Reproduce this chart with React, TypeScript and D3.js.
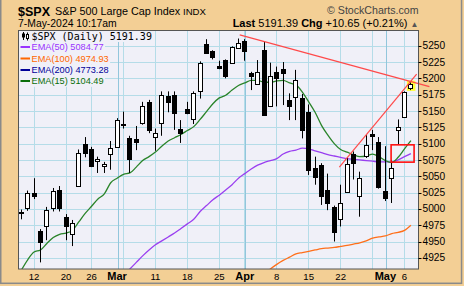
import React, { useLayoutEffect, useRef, useState } from 'react';
import * as d3 from 'd3';

const W = 464;
const H = 286;

// ---- data ----
const dates = [
  '2024-02-08', '2024-02-09', '2024-02-12', '2024-02-13', '2024-02-14', '2024-02-15', '2024-02-16',
  '2024-02-20', '2024-02-21', '2024-02-22', '2024-02-23', '2024-02-26', '2024-02-27', '2024-02-28',
  '2024-02-29', '2024-03-01', '2024-03-04', '2024-03-05', '2024-03-06', '2024-03-07', '2024-03-08',
  '2024-03-11', '2024-03-12', '2024-03-13', '2024-03-14', '2024-03-15', '2024-03-18', '2024-03-19',
  '2024-03-20', '2024-03-21', '2024-03-22', '2024-03-25', '2024-03-26', '2024-03-27', '2024-03-28',
  '2024-04-01', '2024-04-02', '2024-04-03', '2024-04-04', '2024-04-05', '2024-04-08', '2024-04-09',
  '2024-04-10', '2024-04-11', '2024-04-12', '2024-04-15', '2024-04-16', '2024-04-17', '2024-04-18',
  '2024-04-19', '2024-04-22', '2024-04-23', '2024-04-24', '2024-04-25', '2024-04-26', '2024-04-29',
  '2024-04-30', '2024-05-01', '2024-05-02', '2024-05-03', '2024-05-06', '2024-05-07',
];
const opens = [
  4993, 5002, 5024, 4966, 4973, 5001, 5029, 4988, 4962, 5035, 5099, 5091, 5073, 5065, 5084, 5095,
  5130.5, 5108, 5107, 5131, 5164, 5110, 5132, 5173, 5175, 5122, 5153, 5137, 5180, 5252, 5242, 5219,
  5228, 5224, 5246, 5257, 5208, 5192, 5243, 5157, 5210, 5215, 5167, 5171, 5170, 5149, 5062, 5067,
  5029, 5003, 4984, 5026, 5084, 5019, 5081, 5115, 5103, 5028, 5047, 5121, 5140, 5185,
];
const highs = [
  4999, 5028, 5047, 4969, 5003, 5032, 5035, 4992, 4983, 5091, 5110, 5095, 5080, 5072, 5104, 5139,
  5149, 5112, 5127, 5164, 5167, 5123, 5180, 5180, 5180, 5136, 5164, 5180, 5226, 5260, 5243, 5227,
  5229, 5249, 5261, 5260, 5210, 5228, 5256, 5224, 5218, 5225, 5177, 5213, 5176, 5160, 5080, 5070,
  5054, 5005, 5037, 5078, 5088, 5057, 5113, 5121, 5110, 5096, 5075, 5137, 5180, 5194,
];
const lows = [
  4984, 4997, 5015, 4918, 4952, 4996, 4996, 4952, 4943, 5035, 5079, 5064, 5055, 5055, 5060, 5094,
  5123, 5055, 5090, 5129, 5116, 5089, 5112, 5148, 5121, 5101, 5145, 5130, 5169, 5238, 5229, 5214,
  5200, 5223, 5245, 5227, 5182, 5191, 5143, 5156, 5157, 5159, 5136, 5136, 5108, 5052, 5037, 5006,
  4998, 4950, 4973, 5026, 5045, 4988, 5078, 5090, 5031, 5012, 5009, 5098, 5140, 5182,
];
const closes = [
  4995, 5024, 5019, 4950, 4998, 5027, 5002, 4973, 4979, 5085, 5086, 5066, 5076, 5068, 5094, 5136,
  5129.5, 5076, 5102, 5157, 5121, 5116, 5175, 5163, 5147, 5116, 5147, 5177, 5224, 5239, 5232, 5216,
  5203, 5248, 5254, 5242, 5204, 5209, 5144, 5203, 5201, 5208, 5158, 5197, 5121, 5060, 5049, 5019,
  5009, 4964, 5009, 5068, 5070, 5047, 5098, 5112, 5033, 5016, 5062, 5126, 5179, 5191.39,
];

// EMA curves, one value per trading day from their first visible day
const ema15Start = 0;
const ema15 = [
  4906, 4922, 4934, 4937, 4947, 4956, 4961, 4963, 4967, 4980, 4993, 5004, 5015, 5023, 5040, 5047,
  5053, 5055, 5064, 5074, 5080, 5087, 5096, 5104, 5109, 5114, 5120, 5126, 5137, 5149, 5161, 5170,
  5174, 5182, 5189, 5193, 5197, 5197, 5194, 5194, 5196, 5197, 5193, 5190, 5179, 5164, 5148, 5128,
  5113, 5100, 5091, 5087, 5083, 5080, 5081, 5084, 5080, 5074, 5071, 5079, 5092, 5104.49,
];
const ema50Start = 16;
const ema50 = [
  4900, 4908, 4918, 4928, 4937, 4945, 4951, 4957, 4963, 4970, 4977, 4984, 4996, 5005, 5014, 5021,
  5029, 5037, 5047, 5054, 5061, 5067, 5071, 5074, 5077, 5084, 5088, 5090, 5093, 5092, 5089, 5086,
  5083, 5081, 5079, 5077, 5076, 5075, 5074, 5073, 5072, 5072, 5072, 5075, 5080, 5084.77,
];
const ema100Start = 38;
const ema100 = [
  4900, 4908, 4915, 4921, 4926, 4931, 4933, 4935, 4937, 4939, 4940, 4941, 4942.5, 4944, 4946, 4948,
  4951, 4955, 4957, 4958.5, 4962, 4964, 4967, 4974.93,
];

const yTicks = [4925, 4950, 4975, 5000, 5025, 5050, 5075, 5100, 5125, 5150, 5175, 5200, 5225, 5250];
const xLabelDates = [
  '2024-02-12', '2024-02-20', '2024-02-26', '2024-03-01', '2024-03-11', '2024-03-18', '2024-03-25',
  '2024-04-01', '2024-04-08', '2024-04-15', '2024-04-22', '2024-05-01', '2024-05-06',
];
const xLabelTexts = ['12', '20', '26', 'Mar', '11', '18', '25', 'Apr', '8', '15', '22', 'May', '6'];
const weekLineDates = [
  '2024-02-12', '2024-02-20', '2024-02-26', '2024-03-04', '2024-03-11', '2024-03-18', '2024-03-25',
  '2024-04-01', '2024-04-08', '2024-04-15', '2024-04-22', '2024-04-29', '2024-05-06',
];
const monthLineDates = ['2024-03-01', '2024-04-01', '2024-05-01'];

// annotations (day index, value)
const trendDownDays = [34.2, 63.9];
const trendDownVals = [5266.5, 5187.4];
const trendUpDays = [49.8, 61.9];
const trendUpVals = [5064, 5206.5];
const boxDays = [57.9, 61.5];
const boxVals = [5071.6, 5098.1];

const legendLabels = ['$SPX (Daily) 5191.39', 'EMA(50) 5084.77', 'EMA(100) 4974.93', 'EMA(200) 4773.28', 'EMA(15) 5104.49'];
const legendColors = ['#000000', '#9933ff', '#ff6600', '#000099', '#0a6e0a'];

// ---- styling ----
const TAN = '#f3cf95';
const PLOT_BG = '#f0f0f8';
const GRID = '#b5dce8';
const GRID_MONTH = '#92c6dc';
const SANS = '"Liberation Sans", Arial, Helvetica, sans-serif';

const PL = 18.5, PT = 30.5, PR = 418.5, PB = 269;

export default function App() {
  const x = d3.scaleLinear().domain([0, dates.length - 1]).range([21.3, 410.9]);
  const y = d3.scaleLinear().domain([4950, 5250]).range([241.5, 45.7]);
  const idx = (d: string) => dates.indexOf(d);

  const textRefs = useRef<(SVGTextElement | null)[]>([]);
  const [widths, setWidths] = useState<number[]>([120, 70, 80, 79, 75]);
  useLayoutEffect(() => {
    setWidths(textRefs.current.map((t, i) => (t ? t.getComputedTextLength() : widths[i])));
    // eslint-disable-next-line
  }, []);

  const emaLine = (start: number) =>
    d3.line<number>().x((_, i) => x(start + i)).y((v) => y(v)).curve(d3.curveMonotoneX);

  const lineGen = d3.line<[number, number]>().x((p) => x(p[0])).y((p) => y(p[1]));

  const ema15Path = emaLine(ema15Start)(ema15) || '';
  const ema50Path = emaLine(ema50Start)(ema50) || '';
  const ema100Path = emaLine(ema100Start)(ema100) || '';
  const downPath = lineGen(trendDownDays.map((d, i) => [d, trendDownVals[i]] as [number, number])) || '';
  const upPath = lineGen(trendUpDays.map((d, i) => [d, trendUpVals[i]] as [number, number])) || '';

  const last = dates.length - 1;
  const lastX = x(last);

  const legendBase = [39.5, 50.3, 61.8, 73.3, 84.3];

  return (
    <svg width={W} height={H} style={{ position: 'absolute', left: 0, top: 0, display: 'block' }}>
      <defs>
        <clipPath id="plotClip">
          <rect x={PL} y={PT} width={PR - PL} height={PB - PT} />
        </clipPath>
      </defs>
      <rect x={0} y={0} width={W} height={H} fill={TAN} />
      <rect x={0.75} y={-1} width={460.8} height={284.3} fill="none" stroke="#8a8a8a" strokeWidth={1.5} />

      {/* header */}
      <text x={18} y={15.5} fontFamily={SANS} fontSize={12.5} fontWeight="bold" fill="#000">$SPX</text>
      <text x={55} y={15} fontFamily={SANS} fontSize={10.8} fill="#000">S&amp;P 500 Large Cap Index</text>
      <text x={183} y={15} fontFamily={SANS} fontSize={9.6} fill="#000">INDX</text>
      <text x={18} y={27} fontFamily={SANS} fontSize={10.4} fill="#000">7-May-2024 10:17am</text>
      <text x={418.5} y={13.5} fontFamily={SANS} fontSize={10.6} fill="#444" textAnchor="end">© StockCharts.com</text>
      <text x={418.5} y={27} fontFamily={SANS} fontSize={11} fill="#000" textAnchor="end">
        <tspan fontWeight="bold">Last</tspan>
        <tspan> 5191.39 </tspan>
        <tspan fontWeight="bold"> Chg</tspan>
        <tspan> +10.65 (+0.21%) </tspan>
        <tspan fontSize={8} fill="#555">▲</tspan>
      </text>

      {/* plot background */}
      <rect x={PL} y={PT} width={PR - PL} height={PB - PT} fill={PLOT_BG} />

      {/* grid */}
      {yTicks.map((t) => (
        <line key={'h' + t} x1={PL} x2={PR} y1={Math.round(y(t)) + 0.5} y2={Math.round(y(t)) + 0.5} stroke={GRID} strokeWidth={1} />
      ))}
      {weekLineDates.map((d) => {
        const px = Math.floor(x(idx(d))) + 0.5;
        return <line key={'w' + d} x1={px} x2={px} y1={PT} y2={PB} stroke={GRID} strokeWidth={1} />;
      })}
      {monthLineDates.map((d) => {
        const px = Math.floor(x(idx(d))) + 1.5;
        return <line key={'m' + d} x1={px} x2={px} y1={PT} y2={PB} stroke={GRID_MONTH} strokeWidth={1} />;
      })}

      {/* legend backgrounds */}
      {legendLabels.map((l, i) => (
        <rect key={'lb' + i} x={19} y={legendBase[i] - 9} width={31.5 + widths[i] - 19 + 1.5} height={11.5} fill={PLOT_BG} />
      ))}

      <g clipPath="url(#plotClip)">
        {/* highlight last candle */}
        <rect x={lastX - 4} y={y(highs[last]) - 1.6} width={8.5} height={y(lows[last]) - y(highs[last]) + 2.4} fill="#ffff33" />

        {/* EMAs */}
        <path d={ema100Path} fill="none" stroke="#ff6f1a" strokeWidth={1.3} />
        <path d={ema50Path} fill="none" stroke="#9a3ff0" strokeWidth={1.3} />
        <path d={ema15Path} fill="none" stroke="#2a842a" strokeWidth={1.3} />

        {/* candles */}
        {dates.map((d, i) => {
          const cx = Math.floor(x(i)) + 0.5;
          const o = opens[i], c = closes[i];
          const top = Math.round(y(Math.max(o, c)));
          const bot = Math.round(y(Math.min(o, c)));
          const up = c >= o;
          return (
            <g key={d}>
              <line x1={cx} x2={cx} y1={y(highs[i])} y2={y(lows[i])} stroke="#000" strokeWidth={1} />
              <rect x={cx - 2} y={top + 0.5} width={4} height={Math.max(1, bot - top)} fill={up ? '#fff' : '#000'} stroke="#000" strokeWidth={1} />
            </g>
          );
        })}

        {/* up trendline and box */}
        <path d={upPath} fill="none" stroke="#ff4a4a" strokeWidth={1.2} />
        <rect x={x(boxDays[0])} y={y(boxVals[1])} width={x(boxDays[1]) - x(boxDays[0])} height={y(boxVals[0]) - y(boxVals[1])} fill="none" stroke="#ff1010" strokeWidth={1.6} />
      </g>

      {/* down trendline extends past the plot */}
      <path d={downPath} fill="none" stroke="#ff4a4a" strokeWidth={1.2} />

      {/* plot frame */}
      <rect x={PL} y={PT} width={PR - PL} height={PB - PT} fill="none" stroke="#555" strokeWidth={1} />

      {/* legend */}
      <g>
        {/* candle icon */}
        <line x1={23.5} x2={23.5} y1={32} y2={40} stroke="#000" />
        <rect x={22} y={33.5} width={3} height={4} fill="#000" />
        <line x1={27.5} x2={27.5} y1={32.5} y2={40.5} stroke="#000" />
        <rect x={26.5} y={34.5} width={2} height={4} fill="#fff" stroke="#000" />
        {legendLabels.map((l, i) => (
          <g key={'lg' + i}>
            {i > 0 && <line x1={20.5} x2={30} y1={legendBase[i] - 3.3} y2={legendBase[i] - 3.3} stroke={legendColors[i]} strokeWidth={2} />}
            <text
              ref={(el) => { textRefs.current[i] = el; }}
              x={31.5}
              y={legendBase[i]}
              fontFamily={i === 0 ? '"DejaVu Sans Mono", monospace' : SANS}
              fontSize={i === 0 ? 10 : 9.2}
              fill={legendColors[i]}
            >{l}</text>
          </g>
        ))}
      </g>

      {/* y axis */}
      {yTicks.map((t) => (
        <g key={'yt' + t}>
          <line x1={PR} x2={PR + 3} y1={Math.round(y(t)) + 0.5} y2={Math.round(y(t)) + 0.5} stroke="#000" />
          <text x={PR + 4} y={y(t) + 3.6} fontFamily={SANS} fontSize={10.2} fill="#000">{t}</text>
        </g>
      ))}

      {/* x axis labels */}
      {xLabelDates.map((d, i) => {
        const isMonth = /[A-Za-z]/.test(xLabelTexts[i]);
        return (
          <text
            key={'xl' + d}
            x={x(idx(d))}
            y={279.5}
            textAnchor="middle"
            fontFamily={SANS}
            fontSize={isMonth ? 11 : 9.6}
            fontWeight={isMonth ? 'bold' : 'normal'}
            fill="#000"
          >{xLabelTexts[i]}</text>
        );
      })}
    </svg>
  );
}
